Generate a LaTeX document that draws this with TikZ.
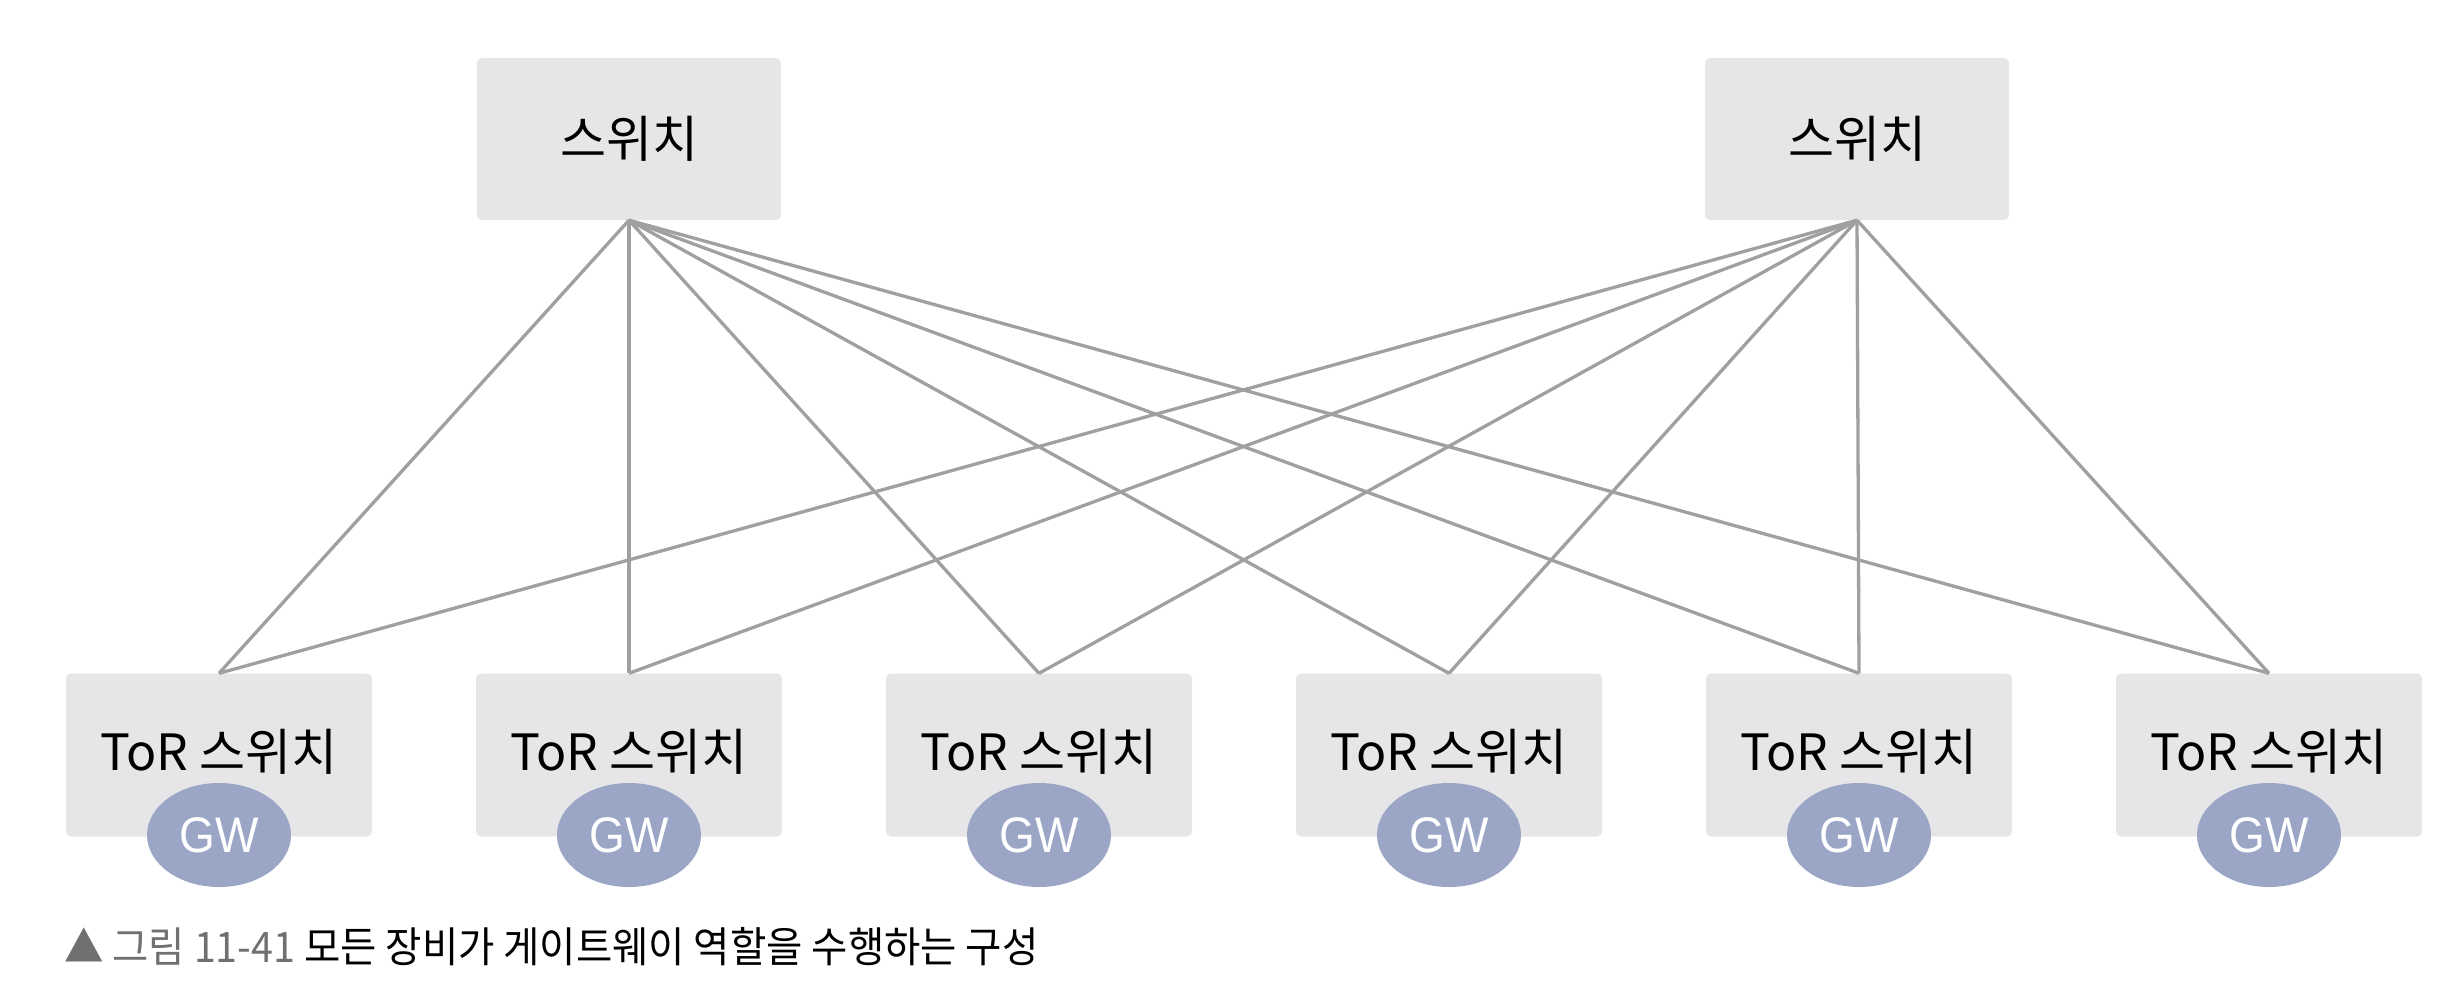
\documentclass[tikz,border=0pt]{standalone}
\usepackage{fontspec}
\setmainfont{Noto Sans CJK KR}
\newfontfamily\latinsans{Liberation Sans}
\usetikzlibrary{shapes.geometric}
\definecolor{boxfill}{HTML}{E6E6E9}
\definecolor{gwfill}{HTML}{9BA6C6}
\definecolor{linkgray}{HTML}{A0A0A0}
\definecolor{capgray}{HTML}{707070}
\tikzset{
  spine/.style={rectangle, rounded corners=5pt, fill=boxfill, minimum width=304pt, minimum height=162pt, inner sep=0pt, font=\fontsize{50}{60}\selectfont},
  tor/.style={rectangle, rounded corners=5pt, fill=boxfill, minimum width=306pt, minimum height=163pt, inner sep=0pt, font=\fontsize{50}{60}\selectfont},
  torlabel/.style={inner sep=0pt, font=\fontsize{50}{60}\selectfont},
  gw/.style={ellipse, fill=gwfill, minimum width=144pt, minimum height=104pt, inner sep=0pt, text=white, font=\latinsans\fontsize{50}{58}\selectfont},
  link/.style={draw=linkgray, line width=3.3pt},
  caption/.style={anchor=west, inner sep=0pt, font=\fontsize{42}{50}\selectfont}
}
\begin{document}
\begin{tikzpicture}[x=1pt,y=-1pt]
\useasboundingbox (0,0) rectangle (2454,996);
\node[spine] (s1) at (629,139) {스위치};
\node[spine] (s2) at (1857,139) {스위치};
\foreach \i/\x in {1/219,2/629,3/1039,4/1449,5/1859,6/2269}{
  \node[tor] (t\i) at (\x,755) {};
  \node[torlabel] (l\i) at (\x,752) {ToR 스위치};
  \node[gw] (g\i) at (\x,835) {\scalebox{0.92}[1]{GW}};
}
\foreach \i in {1,...,6}{
  \draw[link] (s1.south) -- (t\i.north);
  \draw[link] (s2.south) -- (t\i.north);
}
\node[caption] (cap) at (64,947) {\scalebox{0.94}[1]{\textcolor{capgray}{▲ 그림 11-41} 모든 장비가 게이트웨이 역할을 수행하는 구성}};
\end{tikzpicture}
\end{document}
